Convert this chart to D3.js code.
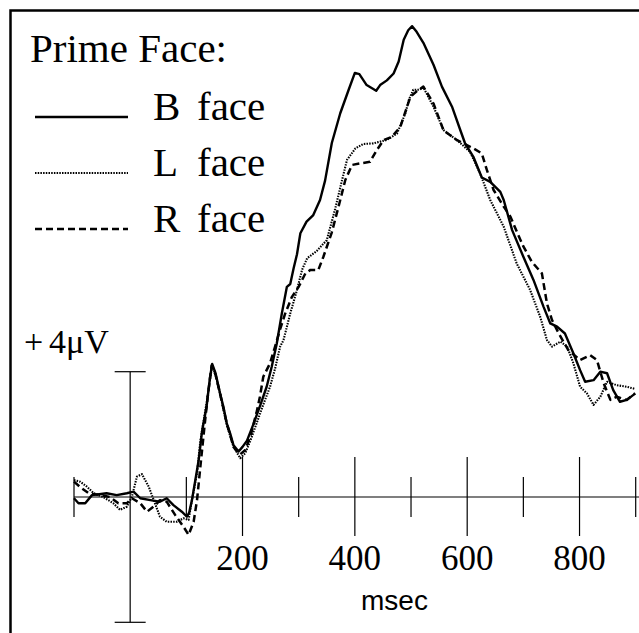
<!DOCTYPE html>
<html><head><meta charset="utf-8">
<script src="https://cdn.jsdelivr.net/npm/d3@7"></script>
<style>html,body{margin:0;padding:0;background:#fff;} svg{display:block;}</style>
</head><body><svg id="chart" width="639" height="633"></svg>
<script>
// ---- data (time in ms, amplitude in µV) ----
const timesB = [-100,-92,-80,-68,-42,-24,-6,6,18,36,53,65,77,92,101,105,110,116,122,128,136,142,146,152,160,166,172,178,184,193,200,208,220,232,243,252,261,270,279,285,291,297,303,314,326,338,347,359,374,389,400,408,421,438,445,457,469,478,487,495,502,510,522,540,555,573,588,596,611,626,641,659,665,680,700,718,736,748,760,774,789,801,810,825,837,849,860,872,884,899];
const voltsB = [-0.04,-0.2,-0.2,0.06,0.12,0.06,0.12,0.17,-0.04,-0.1,-0.15,-0.04,-0.26,-0.47,-0.63,-0.5,-0.1,0.54,1.18,2.1,2.88,3.8,4.25,3.95,3.31,2.88,2.35,2.03,1.65,1.45,1.6,1.8,2.35,2.95,3.52,4.16,4.9,5.86,6.71,6.8,7.3,7.75,8.42,8.79,9.0,9.48,10.1,11.3,12.25,13.0,13.54,13.5,13.15,12.97,13.15,13.3,13.52,13.9,14.6,14.9,15.03,14.85,14.5,13.8,13.1,12.46,11.7,11.3,10.86,10.2,10.06,9.74,9.48,8.52,7.67,6.93,6.07,5.54,5.44,5.22,4.59,4.05,3.68,3.73,4.0,3.95,3.41,3.04,3.1,3.3];

const timesL = [-100,-89,-77,-65,-48,-30,-18,-6,3,12,21,33,42,53,65,83,95,104,110,119,125,136,146,152,160,172,184,196,205,214,225,237,249,258,267,273,285,297,306,315,332,350,365,377,386,401,415,433,457,475,490,496,504,515,522,530,540,558,582,605,623,641,665,688,712,730,742,751,766,778,789,801,813,825,837,849,866,884,899];
const voltsL = [0.54,0.49,0.33,0.12,0.0,-0.2,-0.41,-0.31,0.0,0.65,0.73,0.33,-0.1,-0.63,-0.79,-0.79,-0.68,-0.73,-0.1,0.76,1.8,3.0,4.2,3.9,3.3,2.3,1.6,1.24,1.4,1.8,2.35,2.95,3.52,4.1,4.8,5.01,5.86,6.61,7.25,7.62,7.85,8.2,9.2,10.1,10.76,11.13,11.27,11.29,11.4,11.6,12.25,12.67,13.0,13.0,13.08,12.8,12.46,11.71,11.39,11.02,10.33,9.48,8.63,7.46,6.61,5.75,5.01,4.8,4.96,4.8,4.27,3.52,3.31,2.94,3.2,3.68,3.57,3.52,3.45];

const timesR = [-100,-88,-74,-53,-36,-21,-6,3,18,30,45,53,65,80,95,104,113,119,125,132,138,145,152,160,172,184,195,205,215,225,231,237,249,258,266,276,288,300,312,321,335,344,359,371,383,395,410,427,439,451,466,481,493,499,510,522,540,558,582,611,626,635,647,665,677,690,700,715,733,742,751,763,780,801,819,831,843,855,866,884,899];
const voltsR = [0.49,0.3,0.12,0.06,0.0,-0.2,-0.2,-0.04,-0.2,-0.47,-0.26,-0.1,-0.15,-0.57,-0.95,-1.21,-0.79,-0.1,0.97,2.2,3.2,4.2,3.9,3.3,2.35,1.6,1.35,1.5,2.0,2.7,3.2,3.84,4.27,4.8,5.3,5.86,6.39,6.71,7.14,7.25,7.25,7.67,8.45,9.27,10.12,10.6,10.65,10.7,11.07,11.39,11.5,11.82,12.46,12.78,12.95,13.1,12.56,11.7,11.39,11.13,10.97,10.44,9.8,9.27,8.95,8.4,8.0,7.51,7.14,6.18,5.65,5.22,4.69,4.37,4.53,4.37,3.63,3.1,3.2,3.1,3.31];

const seriesLetters = ["B", "L", "R"];
const legendTitle = "Prime Face:";
const minorTicks = [-100, 100, 300, 500, 700, 900];
const majorTicks = [200, 400, 600, 800];
const tickLabels = ["200", "400", "600", "800"];
const axisTitle = "msec";
const scaleSign = "+";
const scaleText = "4\u03bcV";
const scaleBarValue = 4;

// ---- drawing ----
const svg = d3.select("#chart");
const x = d3.scaleLinear().domain([-100, 900]).range([74, 635.7]);
const y = d3.scaleLinear().domain([-4, 4]).range([622.3, 371.7]);
const serif = "'Liberation Serif','Times New Roman',serif";
const sans = "'Liberation Sans',Arial,sans-serif";

// frame (left + top edges)
svg.append("path").attr("d", "M10.5,633V10.5H639")
  .attr("fill", "none").attr("stroke", "#000").attr("stroke-width", 2.5);

const axisG = svg.append("g").attr("stroke", "#000").attr("stroke-width", 1.2).attr("fill", "none");
axisG.append("line").attr("x1", x(-100)).attr("x2", x(907)).attr("y1", y(0)).attr("y2", y(0));
axisG.selectAll(".mn").data(minorTicks).join("line")
  .attr("x1", d => x(d)).attr("x2", d => x(d))
  .attr("y1", y(0) - 20).attr("y2", y(0) + 20);
axisG.selectAll(".mj").data(majorTicks).join("line")
  .attr("x1", d => x(d)).attr("x2", d => x(d))
  .attr("y1", y(0) - 40).attr("y2", y(0) + 39);
axisG.append("line").attr("x1", x(0)).attr("x2", x(0)).attr("y1", y(scaleBarValue)).attr("y2", y(-scaleBarValue));
[scaleBarValue, -scaleBarValue].forEach(v => {
  axisG.append("line").attr("x1", x(0) - 15.5).attr("x2", x(0) + 15.5).attr("y1", y(v)).attr("y2", y(v));
});

// tick labels
svg.selectAll(".tl").data(majorTicks).join("text")
  .attr("x", d => x(d)).attr("y", 570)
  .attr("text-anchor", "middle").attr("font-family", serif).attr("font-size", 35)
  .text((d, i) => tickLabels[i]);
svg.append("text").attr("x", 394.5).attr("y", 610).attr("text-anchor", "middle")
  .attr("font-family", sans).attr("font-size", 28).text(axisTitle);
const sl = svg.append("text").attr("y", 353).attr("font-family", serif).attr("font-size", 34);
sl.append("tspan").attr("x", 24).text(scaleSign);
sl.append("tspan").attr("x", 49).text(scaleText);

// data lines
const line = d3.line().x(d => x(d[0])).y(d => y(d[1]));
const series = [
  {t: timesB, v: voltsB, dash: null, w: 2.4},
  {t: timesL, v: voltsL, dash: "1.5,1.2", w: 2.1},
  {t: timesR, v: voltsR, dash: "7,4", w: 2.5}
];
series.forEach(s => {
  svg.append("path").datum(s.t.map((t, i) => [t, s.v[i]]))
    .attr("d", line).attr("fill", "none").attr("stroke", "#000")
    .attr("stroke-width", s.w).attr("stroke-linejoin", "round")
    .attr("stroke-dasharray", s.dash);
});

// legend
svg.append("text").attr("x", 30).attr("y", 62).attr("font-family", serif).attr("font-size", 41).text(legendTitle);
const legY = [117, 173, 229];
series.forEach((s, i) => {
  svg.append("line").attr("x1", 35).attr("x2", 128).attr("y1", legY[i]).attr("y2", legY[i])
    .attr("stroke", "#000").attr("stroke-width", i === 1 ? 2.2 : 2.6).attr("stroke-dasharray", s.dash);
  svg.append("text").attr("x", 153).attr("y", legY[i] + 3).attr("font-family", serif).attr("font-size", 41).text(seriesLetters[i]);
  svg.append("text").attr("x", 197).attr("y", legY[i] + 3).attr("font-family", serif).attr("font-size", 41).text("face");
});
</script></body></html>
